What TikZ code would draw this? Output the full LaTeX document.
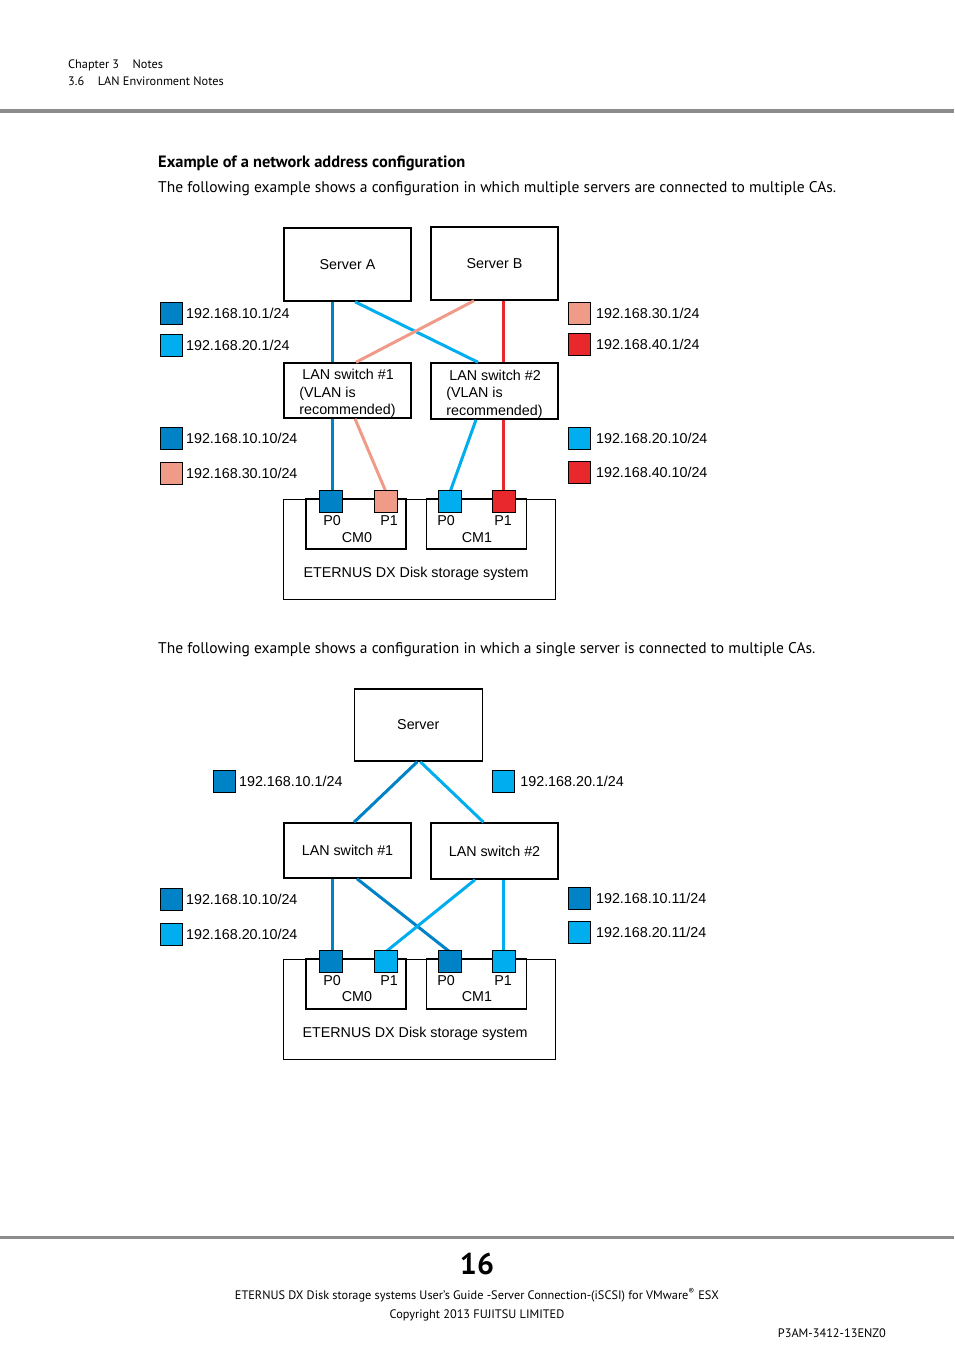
\documentclass[tikz,border=0pt]{standalone}
\usepackage{fontspec}
\setmainfont{PT Sans}
\newfontfamily\diafam{Liberation Sans}
\newcommand\dfont{\diafam\fontsize{14.3}{17.5}\selectfont}
\usetikzlibrary{positioning,calc}

\definecolor{lanA}{RGB}{0,130,198}
\definecolor{lanB}{RGB}{0,174,239}
\definecolor{lanC}{RGB}{240,154,136}
\definecolor{lanD}{RGB}{233,40,46}
\definecolor{pagerule}{RGB}{140,140,140}

\tikzset{
  unit/.style={draw, line width=1.5pt, minimum width=127pt, minimum height=73pt, inner sep=0pt, font=\dfont},
  cmbox/.style={draw, line width=1.2pt, minimum width=100pt, minimum height=50pt, inner sep=0pt},
  dxbox/.style={draw, line width=1pt, minimum width=272pt, minimum height=100pt, inner sep=0pt},
  port/.style={draw, line width=0.8pt, minimum width=23pt, minimum height=22pt, inner sep=0pt},
  key/.style={draw, line width=0.8pt, minimum width=22pt, minimum height=22pt, inner sep=0pt},
  addr/.style={font=\dfont, inner sep=0pt, label distance=3.5pt},
  far/.style={label distance=5.5pt},
  txt/.style={font=\dfont, inner sep=0pt},
  link/.style={line width=3pt},
  pagetext/.style={anchor=base west, inner sep=0pt},
}

\begin{document}
\begin{tikzpicture}[x=1pt,y=-1pt]
\useasboundingbox (0,0) rectangle (954,1350);

% Page header
\node[pagetext, font=\fontsize{12.3}{15}\selectfont] (chap) at (68,68.5) {Chapter 3\hspace{1.1em}Notes};
\node[pagetext, font=\fontsize{12.3}{15}\selectfont] (sect) at (68,85.7) {3.6\hspace{1.1em}LAN Environment Notes};
\fill[pagerule] (0,109) rectangle (954,113);

\node[pagetext, font=\fontsize{16.4}{19}\selectfont\bfseries] (head) at (158,167.3) {Example of a network address configuration};
\node[pagetext, font=\fontsize{15.5}{18}\selectfont] (introA) at (158,192) {The following example shows a configuration in which multiple servers are connected to multiple CAs.};

% First example: servers and switches
\node[unit] (srvA) at (347.5,264.5) {Server A};
\node[unit] (srvB) at (494.5,263.5) {Server B};
\node[unit, minimum height=55pt, align=left] (swA) at (347.5,390.5) {\rule{0pt}{16pt}\hspace{3pt}LAN switch \#1\\(VLAN is\\recommended)};
\node[unit, minimum height=56pt, align=left] (swB) at (494.5,391) {\rule{0pt}{16pt}\hspace{3pt}LAN switch \#2\\(VLAN is\\recommended)};

% Storage system
\node[dxbox] (dxA) at (419,549) {};
\node[cmbox] (cm0A) at (356,524) {};
\node[cmbox] (cm1A) at (476.7,524) {};
\node[txt] (dxAt) at (416,574) {ETERNUS DX Disk storage system};

% Links
\draw[link, lanA] (srvA.south -| 332,0) -- (swA.north -| 332,0);
\draw[link, lanB] ([xshift=7.5pt]srvA.south) -- ([xshift=-16.5pt]swB.north);
\draw[link, lanC] ([xshift=-20.5pt]srvB.south) -- ([xshift=8.5pt]swA.north);
\draw[link, lanD] (srvB.south -| 503,0) -- (swB.north -| 503,0);
\draw[link, lanA] (swA.south -| 332,0) -- (332,492);
\draw[link, lanC] ([xshift=7.5pt]swA.south) -- (386,492);
\draw[link, lanB] ([xshift=-18.5pt]swB.south) -- (450,492);
\draw[link, lanD] (swB.south -| 503,0) -- (503,492);

% Ports
\node[port, fill=lanA] (pA0) at (331,501) {};
\node[port, fill=lanC] (pA1) at (385.5,501) {};
\node[port, fill=lanB] (pB0) at (449.5,501) {};
\node[port, fill=lanD] (pB1) at (504,501) {};
\node[txt] (pA0t) at (332,521) {P0};
\node[txt] (pA1t) at (389,521) {P1};
\node[txt] (pB0t) at (446,521) {P0};
\node[txt] (pB1t) at (503,521) {P1};
\node[txt] (cm0At) at (357,538) {CM0};
\node[txt] (cm1At) at (477,538) {CM1};

% Addresses
\node[key, fill=lanA, label={[addr]right:192.168.10.1/24}] (kA1) at (171,313) {};
\node[key, fill=lanB, label={[addr]right:192.168.20.1/24}] (kA2) at (171,345) {};
\node[key, fill=lanA, label={[addr]right:192.168.10.10/24}] (kA3) at (171,438.5) {};
\node[key, fill=lanC, label={[addr]right:192.168.30.10/24}] (kA4) at (171,473) {};
\node[key, fill=lanC, label={[addr,far]right:192.168.30.1/24}] (kB1) at (579,313) {};
\node[key, fill=lanD, label={[addr,far]right:192.168.40.1/24}] (kB2) at (579,344) {};
\node[key, fill=lanB, label={[addr,far]right:192.168.20.10/24}] (kB3) at (579,438.5) {};
\node[key, fill=lanD, label={[addr,far]right:192.168.40.10/24}] (kB4) at (579,472) {};

\node[pagetext, font=\fontsize{15.5}{18}\selectfont] (introB) at (158,653) {The following example shows a configuration in which a single server is connected to multiple CAs.};

% Second example
\node[unit, minimum width=128pt, minimum height=72pt] (srv) at (418.3,725) {Server};
\node[unit, minimum height=55pt] (sw1) at (347.5,850.5) {LAN switch \#1};
\node[unit, minimum height=56pt] (sw2) at (494.5,851) {LAN switch \#2};

\node[dxbox] (dxB) at (419,1009) {};
\node[cmbox] (cm0B) at (356,984) {};
\node[cmbox] (cm1B) at (476.5,984) {};
\node[txt] (dxBt) at (415,1034) {ETERNUS DX Disk storage system};

\draw[link, lanA] ([xshift=-1pt]srv.south) -- ([xshift=6.5pt]sw1.north);
\draw[link, lanB] ([xshift=2pt]srv.south) -- ([xshift=-11pt]sw2.north);
\draw[link, lanA] (sw1.south -| 332,0) -- (332,952);
\draw[link, lanA] ([xshift=9.5pt]sw1.south) -- (450,952);
\draw[link, lanB] ([xshift=-19.5pt]sw2.south) -- (385.5,952);
\draw[link, lanB] (sw2.south -| 503,0) -- (503,952);

\node[port, fill=lanA] (q00) at (331,961) {};
\node[port, fill=lanB] (q01) at (385.5,961) {};
\node[port, fill=lanA] (q10) at (449.5,961) {};
\node[port, fill=lanB] (q11) at (504,961) {};
\node[txt] (q00t) at (332,981) {P0};
\node[txt] (q01t) at (389,981) {P1};
\node[txt] (q10t) at (446,981) {P0};
\node[txt] (q11t) at (503,981) {P1};
\node[txt] (cm0Bt) at (357,997) {CM0};
\node[txt] (cm1Bt) at (477,997) {CM1};

\node[key, fill=lanA, label={[addr]right:192.168.10.1/24}] (kS1) at (224,781.8) {};
\node[key, fill=lanB, label={[addr,far]right:192.168.20.1/24}] (kS2) at (503.3,781.8) {};
\node[key, fill=lanA, label={[addr]right:192.168.10.10/24}] (kL1) at (171,899) {};
\node[key, fill=lanB, label={[addr]right:192.168.20.10/24}] (kL2) at (171,934) {};
\node[key, fill=lanA, label={[addr,far]right:192.168.10.11/24}] (kR1) at (579,898) {};
\node[key, fill=lanB, label={[addr,far]right:192.168.20.11/24}] (kR2) at (579,932) {};

% Page footer
\fill[pagerule] (0,1236) rectangle (954,1239);
\node[font=\fontsize{30}{34}\selectfont\bfseries, anchor=base, inner sep=0pt] (pgno) at (477,1274) {16};
\node[font=\fontsize{12.3}{15}\selectfont, anchor=base, inner sep=0pt] (foot) at (477,1299) {ETERNUS DX Disk storage systems User's Guide -Server Connection-(iSCSI) for VMware\textsuperscript{\textregistered} ESX};
\node[font=\fontsize{12.3}{15}\selectfont, anchor=base, inner sep=0pt] (copy) at (477,1318) {Copyright 2013 FUJITSU LIMITED};
\node[font=\fontsize{12.3}{15}\selectfont, anchor=base east, inner sep=0pt] (code) at (886,1337) {P3AM-3412-13ENZ0};
\end{tikzpicture}
\end{document}
